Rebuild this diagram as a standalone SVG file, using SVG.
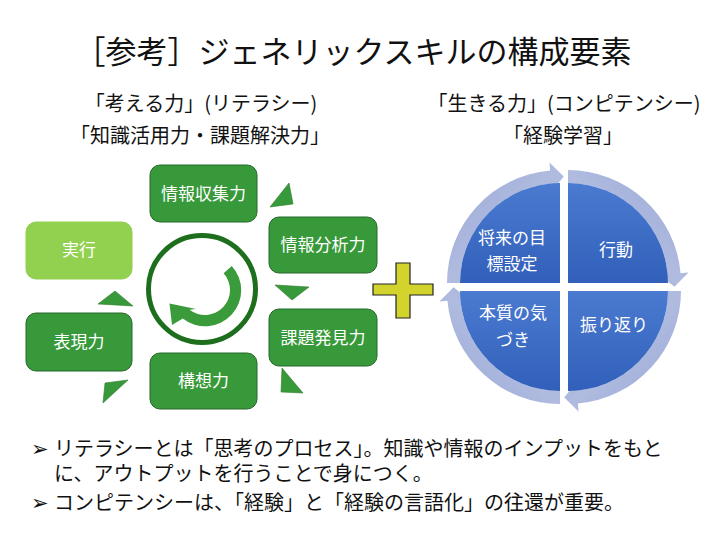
<svg xmlns="http://www.w3.org/2000/svg" width="720" height="540" viewBox="0 0 720 540">
<style>
  .t { font-family: "Noto Sans CJK JP", "Noto Sans", sans-serif; fill: #111; }
  .title { font-size: 31px; }
  .sub { font-size: 20px; }
  .body { font-size: 20px; }
  .bul { font-family: "DejaVu Sans", sans-serif; font-size: 21px; fill: #111; }
  .box { fill: #38993A; stroke: #24682A; stroke-width: 1; }
  .box-light { fill: #92D050; stroke: #92D050; stroke-width: 1; }
  .bt { font-family: "Noto Sans CJK JP", "Noto Sans", sans-serif; font-size: 17px; fill: #fff; text-anchor: middle; }
  .tri { fill: #38993A; stroke: #2C7A2E; stroke-width: 0.6; }
  .qt { font-family: "Noto Sans CJK JP", "Noto Sans", sans-serif; font-size: 17px; fill: #fff; text-anchor: middle; }
  .quad { fill: url(#qgrad); }
  .ring { fill: url(#rgrad); }
</style>
<defs>
  <linearGradient id="qgrad" x1="0" y1="0" x2="0" y2="1">
    <stop offset="0" stop-color="#4A7BD0"/>
    <stop offset="1" stop-color="#315FBA"/>
  </linearGradient>
  <linearGradient id="rgrad" x1="0" y1="0" x2="1" y2="1">
    <stop offset="0" stop-color="#96A6D5"/>
    <stop offset="0.5" stop-color="#B0BBDF"/>
    <stop offset="1" stop-color="#9FADD9"/>
  </linearGradient>
  <path id="ringArrow" d="M-113,0 A113,113 0 0 1 -9.85,-112.57 L-10.55,-120.54 L3.72,-106.44 L-8.02,-91.65 L-8.72,-99.62 A100,100 0 0 0 -100,0 Z"/>
</defs>
<rect x="0" y="0" width="720" height="540" fill="#fff"/>

<g id="title">
  <text class="t title" x="353" y="63" text-anchor="middle">［参考］ジェネリックスキルの構成要素</text>
</g>
<g id="headings">
  <text class="t sub" x="201" y="111" text-anchor="middle">「考える力」(リテラシー)</text>
  <text class="t sub" x="200" y="143" text-anchor="middle">「知識活用力・課題解決力」</text>
  <text class="t sub" x="564" y="111" text-anchor="middle">「生きる力」(コンピテンシー)</text>
  <text class="t sub" x="563" y="143" text-anchor="middle">「経験学習」</text>
</g>

<g id="connectors">
  <polygon class="tri" points="270,207 293,204 289,183"/>
  <polygon class="tri" points="275,285 309,287 292,300"/>
  <polygon class="tri" points="282,368 281,392 303,393"/>
  <polygon class="tri" points="105,383 128,380 103,403"/>
  <polygon class="tri" points="98,304 133,306 115,291"/>
  <use href="#ringArrow" class="ring" transform="translate(560,283)"/>
  <use href="#ringArrow" class="ring" transform="translate(568,283) rotate(90)"/>
  <use href="#ringArrow" class="ring" transform="translate(568,291) rotate(180)"/>
  <use href="#ringArrow" class="ring" transform="translate(560,291) rotate(270)"/>
</g>

<g id="cycle-center">
  <circle cx="202" cy="289" r="53.5" fill="#fff" stroke="#1D6F1D" stroke-width="5"/>
  <path d="M231.75,265.9 A36,36 0 0 1 182.8,318.4 L172,325 L169.5,303.5 L196,309 L189.6,309.7 A25,25 0 0 0 223.6,273.3 Z" fill="#3A9B3A"/>
</g>

<g id="node-joho-shushu">
  <rect class="box" x="150" y="165" width="107" height="57" rx="10"/>
  <text class="bt" x="203.5" y="200">情報収集力</text>
</g>
<g id="node-joho-bunseki">
  <rect class="box" x="269" y="217" width="108" height="56" rx="10"/>
  <text class="bt" x="323" y="251">情報分析力</text>
</g>
<g id="node-kadai-hakken">
  <rect class="box" x="269" y="309" width="108" height="57" rx="10"/>
  <text class="bt" x="323" y="344">課題発見力</text>
</g>
<g id="node-koso">
  <rect class="box" x="150" y="353" width="107" height="56" rx="10"/>
  <text class="bt" x="203.5" y="387">構想力</text>
</g>
<g id="node-hyogen">
  <rect class="box" x="26" y="313" width="106" height="58" rx="10"/>
  <text class="bt" x="79" y="348">表現力</text>
</g>
<g id="node-jikko">
  <rect class="box-light" x="26" y="222" width="106" height="57" rx="10"/>
  <text class="bt" x="79" y="256">実行</text>
</g>

<g id="plus">
  <path d="M396,263 H410 V284 H433 V295 H410 V318 H396 V295 H373 V284 H396 Z" fill="#D3D32E" stroke="#222" stroke-width="1.2"/>
</g>

<g id="node-goal">
  <path class="quad" d="M560,283 L460,283 A100,100 0 0 1 560,183 Z"/>
  <text class="qt" x="512" y="244">将来の目<tspan x="512" y="270">標設定</tspan></text>
</g>
<g id="node-action">
  <path class="quad" d="M568,283 L568,183 A100,100 0 0 1 668,283 Z"/>
  <text class="qt" x="616" y="256">行動</text>
</g>
<g id="node-reflection">
  <path class="quad" d="M568,291 L668,291 A100,100 0 0 1 568,391 Z"/>
  <text class="qt" x="614" y="331">振り返り</text>
</g>
<g id="node-insight">
  <path class="quad" d="M560,291 L560,391 A100,100 0 0 1 460,291 Z"/>
  <text class="qt" x="513" y="319">本質の気<tspan x="513" y="346">づき</tspan></text>
</g>

<g id="notes">
  <text class="bul" x="31" y="456">➢</text>
  <text class="t body" x="54" y="456">リテラシーとは「思考のプロセス」。知識や情報のインプットをもと<tspan x="54" y="481">に、アウトプットを行うことで身につく。</tspan></text>
  <text class="bul" x="31" y="510">➢</text>
  <text class="t body" x="54" y="510">コンピテンシーは、「経験」と「経験の言語化」の往還が重要。</text>
</g>
</svg>
